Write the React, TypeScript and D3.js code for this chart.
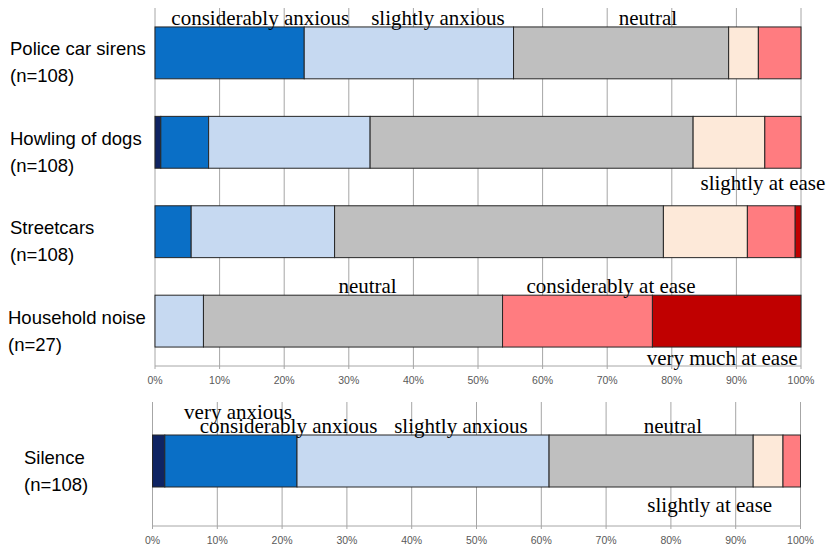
import React from "react";
import * as d3 from "d3";

const levels = [
  "very anxious",
  "considerably anxious",
  "slightly anxious",
  "neutral",
  "slightly at ease",
  "considerably at ease",
  "very much at ease",
];
const colors = ["#0f2463", "#0a6fc6", "#c6d9f1", "#bfbfbf", "#fde9d9", "#ff7c80", "#c00000"];

const topCategories = ["Police car sirens", "Howling of dogs", "Streetcars", "Household noise"];
const topCounts = ["(n=108)", "(n=108)", "(n=108)", "(n=27)"];
// percentages per level
const policeSirens = [0, 23.1, 32.4, 33.3, 4.6, 6.6, 0];
const howlingDogs = [0.9, 7.4, 25.0, 50.0, 11.1, 5.6, 0];
const streetcars = [0, 5.6, 22.2, 50.9, 13.0, 7.4, 0.9];
const householdNoise = [0, 0, 7.5, 46.3, 0, 23.2, 23.0];
const topValues = [policeSirens, howlingDogs, streetcars, householdNoise];

const bottomCategories = ["Silence"];
const bottomCounts = ["(n=108)"];
const silence = [1.9, 20.4, 38.9, 31.5, 4.6, 2.7, 0];
const bottomValues = [silence];

const ticks = [0, 10, 20, 30, 40, 50, 60, 70, 80, 90, 100];

// annotations: [text, category, centre percent, side]
const topNotes: [string, string, number, string][] = [
  ["considerably anxious", "Police car sirens", 16.3, "above"],
  ["slightly anxious", "Police car sirens", 43.8, "above"],
  ["neutral", "Police car sirens", 76.3, "above"],
  ["slightly at ease", "Streetcars", 94.1, "above2"],
  ["neutral", "Household noise", 32.9, "above"],
  ["considerably at ease", "Household noise", 70.6, "above"],
  ["very much at ease", "Household noise", 87.8, "below"],
];
const bottomNotes: [string, string, number, string][] = [
  ["very anxious", "Silence", 13.2, "above2"],
  ["considerably anxious", "Silence", 21.0, "above"],
  ["slightly anxious", "Silence", 47.6, "above"],
  ["neutral", "Silence", 80.3, "above"],
  ["slightly at ease", "Silence", 86.0, "below2"],
];

type PanelProps = {
  cats: string[];
  counts: string[];
  values: number[][];
  notes: [string, string, number, string][];
  x0: number;
  x1: number;
  gridTop: number;
  axisY: number;
  y: d3.ScaleBand<string>;
  labelX: number[];
};

function Panel({ cats, counts, values, notes, x0, x1, gridTop, axisY, y, labelX }: PanelProps) {
  const x = d3.scaleLinear().domain([0, 100]).range([x0, x1]);
  const bw = y.bandwidth();
  const noteY = (cat: string, side: string) => {
    const top = y(cat)!;
    if (side === "above") return top - 2;
    if (side === "above2") return top - 16;
    if (side === "below") return top + bw + 18;
    return top + bw + 25;
  };
  return (
    <g>
      {ticks.map((t) => (
        <line key={"g" + t} x1={x(t)} x2={x(t)} y1={gridTop} y2={axisY + 3} stroke="#a6a6a6" strokeWidth={1} />
      ))}
      <line x1={x0} x2={x1} y1={axisY} y2={axisY} stroke="#a6a6a6" strokeWidth={1} />
      {ticks.map((t) => (
        <text
          key={"t" + t}
          x={x(t)}
          y={axisY + 18}
          textAnchor="middle"
          fontFamily="Liberation Sans, Arial, sans-serif"
          fontSize={10.5}
          fill="#595959"
        >
          {t}%
        </text>
      ))}
      {cats.map((c, i) => {
        const stack = d3.cumsum(values[i]);
        return (
          <g key={c}>
            {values[i].map((v, j) =>
              v > 0 ? (
                <rect
                  key={j}
                  x={x(stack[j] - v)}
                  width={x(stack[j]) - x(stack[j] - v)}
                  y={y(c)}
                  height={bw}
                  fill={colors[j]}
                  stroke="#262626"
                  strokeWidth={1}
                />
              ) : null
            )}
            <text
              x={labelX[i]}
              y={y(c)! + bw / 2 - 4}
              dominantBaseline="central"
              fontFamily="Liberation Sans, Arial, sans-serif"
              fontSize={18.5}
              fill="#000"
            >
              {c}
            </text>
            <text
              x={labelX[i]}
              y={y(c)! + bw / 2 + 23}
              dominantBaseline="central"
              fontFamily="Liberation Sans, Arial, sans-serif"
              fontSize={18.5}
              fill="#000"
            >
              {counts[i]}
            </text>
          </g>
        );
      })}
      {notes.map(([t, c, p, side], k) => (
        <text
          key={"n" + k}
          x={x(p)}
          y={noteY(c, side)}
          textAnchor="middle"
          fontFamily="Liberation Serif, Times New Roman, serif"
          fontSize={21}
          fill="#000"
        >
          {t}
        </text>
      ))}
    </g>
  );
}

export default function App() {
  const yTop = d3.scaleBand<string>().domain(topCategories).range([8, 366]).paddingInner(0.42).paddingOuter(0.212);
  const yBottom = d3.scaleBand<string>().domain(bottomCategories).range([396, 526]).paddingInner(0.6).paddingOuter(0.3);
  return (
    <svg
      width={833}
      height={554}
      style={{ position: "absolute", left: 0, top: 0, background: "#fff" }}
    >
      <rect width={833} height={554} fill="#fff" />
      <Panel
        cats={topCategories}
        counts={topCounts}
        values={topValues}
        notes={topNotes}
        x0={155}
        x1={801}
        gridTop={8}
        axisY={366}
        y={yTop}
        labelX={[10, 10, 10, 8]}
      />
      <Panel
        cats={bottomCategories}
        counts={bottomCounts}
        values={bottomValues}
        notes={bottomNotes}
        x0={152.5}
        x1={800.5}
        gridTop={402}
        axisY={526}
        y={yBottom}
        labelX={[24]}
      />
    </svg>
  );
}
